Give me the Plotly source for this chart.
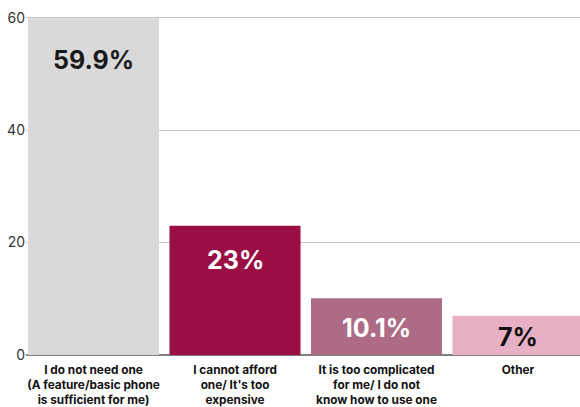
import plotly.graph_objects as go

# Reasons for not owning a smartphone (% of respondents)
categories = [
    "I do not need one<br>(A feature/basic phone<br>is sufficient for me)",
    "I cannot afford<br>one/ It's too<br>expensive",
    "It is too complicated<br>for me/ I do not<br>know how to use one",
    "Other",
]
values = [59.9, 23, 10.1, 7]
value_labels = ["59.9%", "23%", "10.1%", "7%"]
bar_colors = ["#d9d9d9", "#9b0d45", "#ae6b85", "#e8b0c5"]
label_colors = ["#1a1a1a", "#ffffff", "#ffffff", "#111111"]
label_drop_px = [42, 34, 30, 21]  # distance of each value label below its bar top
y_ticks = [0, 20, 40, 60]

FONT = "Inter"

fig = go.Figure()
fig.add_trace(go.Bar(
    x=list(range(len(categories))),
    y=values,
    marker=dict(color=bar_colors, line=dict(width=0)),
    width=0.926,
    hoverinfo="skip",
))

for i, (v, txt, col, drop) in enumerate(zip(values, value_labels, label_colors, label_drop_px)):
    fig.add_annotation(
        x=i, y=v, xref="x", yref="y",
        text=f"<b>{txt}</b>", showarrow=False,
        yanchor="middle", yshift=-drop,
        font=dict(family=FONT, size=25, color=col),
    )

fig.update_layout(
    width=580, height=407,
    margin=dict(l=26, r=0, t=12, b=52),
    paper_bgcolor="white", plot_bgcolor="white",
    showlegend=False,
    font=dict(family=FONT, color="#333333"),
    xaxis=dict(
        tickmode="array",
        tickvals=list(range(len(categories))),
        ticktext=[f"<b>{c}</b>" for c in categories],
        tickfont=dict(family=FONT, size=11.8, color="#111111"),
        ticklabelstandoff=6,
        automargin=False,
        range=[-0.477, 3.438],
        showgrid=False, showline=False, ticks="",
        fixedrange=True,
    ),
    yaxis=dict(
        range=[0, 61],
        tickvals=y_ticks,
        tickfont=dict(family=FONT, size=14, color="#333333"),
        automargin=False,
        showgrid=True, gridcolor="#c4c4c4", gridwidth=1,
        zeroline=True, zerolinecolor="#7f7f7f", zerolinewidth=1.5,
        showline=False, ticks="",
        fixedrange=True,
    ),
)

fig.write_html("out.html")
